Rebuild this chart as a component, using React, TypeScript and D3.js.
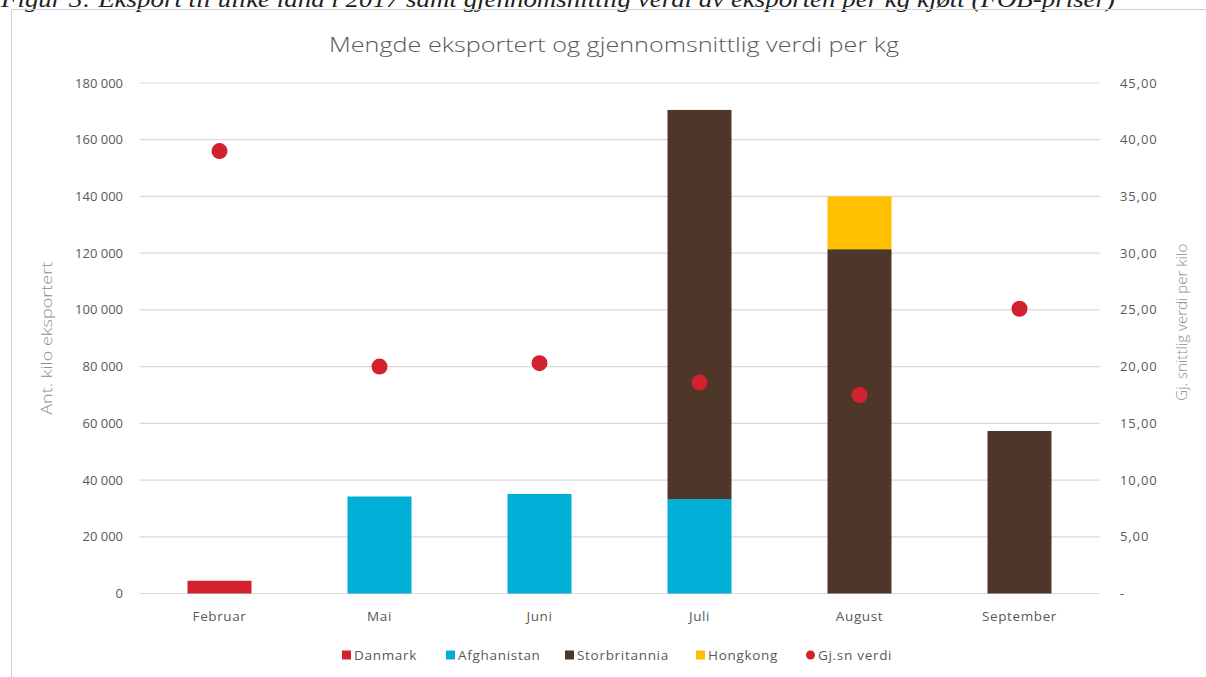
import React from "react";
import * as d3 from "d3";

const months = ["Februar", "Mai", "Juni", "Juli", "August", "September"];
const danmark = [4500, 0, 0, 0, 0, 0];
const afghanistan = [0, 34200, 35100, 33300, 0, 0];
const storbritannia = [0, 0, 0, 137200, 121400, 57300];
const hongkong = [0, 0, 0, 0, 18600, 0];
const avgValue = [39.0, 20.0, 20.3, 18.6, 17.5, 25.1];

const leftTicks = [0, 20000, 40000, 60000, 80000, 100000, 120000, 140000, 160000, 180000];
const rightTicks = [0, 5, 10, 15, 20, 25, 30, 35, 40, 45];

const seriesNames = ["Danmark", "Afghanistan", "Storbritannia", "Hongkong"];
const seriesColors = ["#d2222d", "#00afd6", "#4e3628", "#ffc000"];
const dotName = "Gj.sn verdi";
const dotColor = "#d2222d";

const title = "Mengde eksportert og gjennomsnittlig verdi per kg";
const caption =
  "Figur 3: Eksport til ulike land i 2017 samt gjennomsnittlig verdi av eksporten per kg kjøtt (FOB-priser)";
const leftTitle = "Ant. kilo eksportert";
const rightTitle = "Gj. snittlig verdi per kilo";

const locale = d3.formatLocale({
  decimal: ",",
  thousands: " ",
  grouping: [3],
  currency: ["", ""],
});
const fmtLeft = locale.format(",.0f");
const fmtRight = (v: number) => (v === 0 ? "-" : locale.format(",.2f")(v));

export default function App() {
  const W = 1206;
  const H = 677;
  const plotL = 139.5;
  const plotR = 1099.5;
  const plotT = 83;
  const plotB = 593.5;

  const x = d3.scaleBand<string>().domain(months).range([plotL, plotR]).paddingInner(0.6).paddingOuter(0.3);
  const yL = d3.scaleLinear().domain([0, 180000]).range([plotB, plotT]);
  const yR = d3.scaleLinear().domain([0, 45]).range([plotB, plotT]);

  const table = months.map((m, i) => ({
    month: m,
    Danmark: danmark[i],
    Afghanistan: afghanistan[i],
    Storbritannia: storbritannia[i],
    Hongkong: hongkong[i],
  }));
  const stack = d3.stack<any>().keys(seriesNames)(table);

  const font = "'Open Sans', sans-serif";
  const textGray = "#595959";

  const legendY = 655;
  const legendItems = [
    { name: seriesNames[0], color: seriesColors[0], x: 342, shape: "rect" },
    { name: seriesNames[1], color: seriesColors[1], x: 446, shape: "rect" },
    { name: seriesNames[2], color: seriesColors[2], x: 565, shape: "rect" },
    { name: seriesNames[3], color: seriesColors[3], x: 696, shape: "rect" },
    { name: dotName, color: dotColor, x: 806, shape: "circle" },
  ];

  return (
    <svg
      width={W}
      height={H}
      style={{ position: "absolute", left: 0, top: 0, background: "#fff" }}
      xmlns="http://www.w3.org/2000/svg"
    >
      <rect x={0} y={0} width={W} height={H} fill="#fff" />
      <text
        x={1}
        y={7}
        fontFamily="'Liberation Serif', serif"
        fontStyle="italic"
        fontSize={23}
        fill="#222"
        textLength={1114}
        lengthAdjust="spacingAndGlyphs"
      >
        {caption}
      </text>
      <rect x={11.5} y={9.5} width={1220} height={700} fill="none" stroke="#d0d0d0" strokeWidth={1} />

      <text
        x={614}
        y={52}
        textAnchor="middle"
        fontFamily={font}
        fontWeight={300}
        fontSize={19.5}
        fill={textGray}
        textLength={570}
        lengthAdjust="spacingAndGlyphs"
      >
        {title}
      </text>

      {leftTicks.map((t) => (
        <line key={"g" + t} x1={plotL} x2={plotR} y1={yL(t)} y2={yL(t)} stroke="#d9d9d9" strokeWidth={1.2} />
      ))}

      {stack.map((layer, si) =>
        layer.map((d, i) =>
          d[1] - d[0] > 0 ? (
            <rect
              key={seriesNames[si] + i}
              x={x(months[i])!}
              width={x.bandwidth()}
              y={yL(d[1])}
              height={yL(d[0]) - yL(d[1])}
              fill={seriesColors[si]}
            />
          ) : null
        )
      )}

      {avgValue.map((v, i) => (
        <circle key={"c" + i} cx={x(months[i])! + x.bandwidth() / 2} cy={yR(v)} r={8} fill={dotColor} />
      ))}

      {leftTicks.map((t) => (
        <text key={"l" + t} x={123} y={yL(t) + 4.5} textAnchor="end" fontFamily={font} fontSize={13} fill={textGray}>
          {fmtLeft(t)}
        </text>
      ))}
      {rightTicks.map((t) => (
        <text
          key={"r" + t}
          x={1120}
          y={yR(t) + 4.5}
          textAnchor="start"
          fontFamily={font}
          fontSize={13}
          letterSpacing={0.9}
          fill={textGray}
        >
          {fmtRight(t)}
        </text>
      ))}

      {months.map((m) => (
        <text
          key={"m" + m}
          x={x(m)! + x.bandwidth() / 2}
          y={621}
          textAnchor="middle"
          fontFamily={font}
          fontSize={13.5}
          letterSpacing={0.6}
          fill={textGray}
        >
          {m}
        </text>
      ))}

      <text
        transform={`translate(52,${(plotT + plotB) / 2}) rotate(-90)`}
        textAnchor="middle"
        fontFamily={font}
        fontWeight={300}
        fontSize={15}
        fill="#8c8c8c"
        textLength={153}
        lengthAdjust="spacingAndGlyphs"
      >
        {leftTitle}
      </text>
      <text
        transform={`translate(1187,${(plotT + plotB) / 2 - 16}) rotate(-90)`}
        textAnchor="middle"
        fontFamily={font}
        fontWeight={300}
        fontSize={15}
        fill="#8c8c8c"
        textLength={157}
        lengthAdjust="spacingAndGlyphs"
      >
        {rightTitle}
      </text>

      {legendItems.map((it) => (
        <g key={"lg" + it.name} transform={`translate(${it.x},${legendY})`}>
          {it.shape === "rect" ? (
            <rect x={0} y={-4.5} width={9} height={9} fill={it.color} />
          ) : (
            <circle cx={4.5} cy={0} r={4.5} fill={it.color} />
          )}
          <text x={12} y={4.5} fontFamily={font} fontSize={13.5} letterSpacing={0.7} fill={textGray}>
            {it.name}
          </text>
        </g>
      ))}
    </svg>
  );
}
